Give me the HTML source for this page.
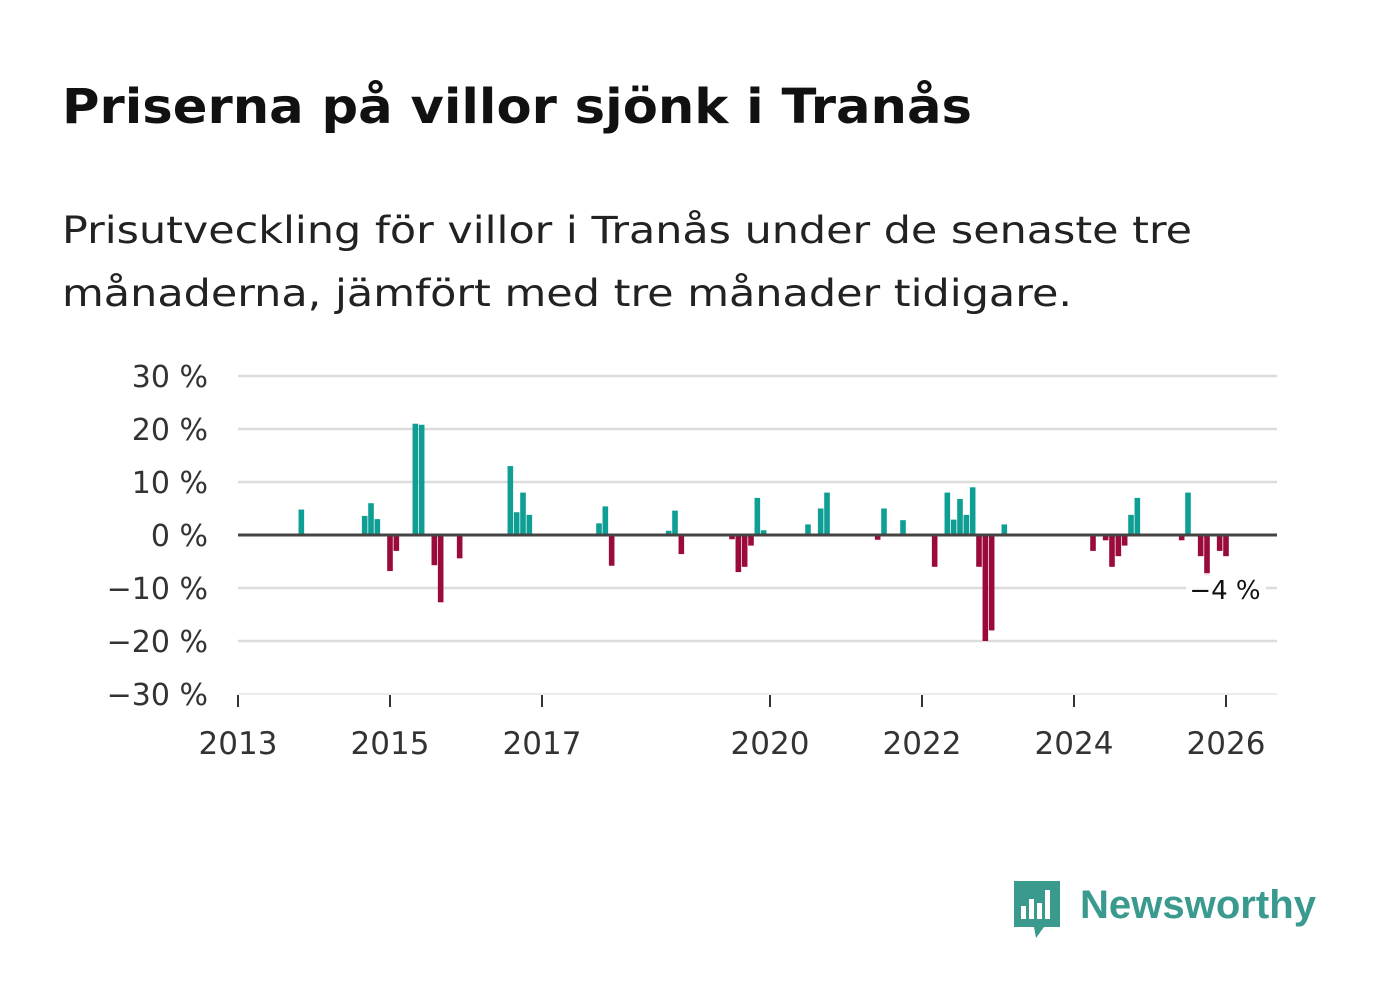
<!DOCTYPE html>
<html><head><meta charset="utf-8"><style>
body{margin:0;background:#fff;width:1382px;height:999px;overflow:hidden;font-family:"DejaVu Sans",sans-serif;}
svg text{font-family:"DejaVu Sans",sans-serif;}
</style></head><body>
<svg id="chart" width="1382" height="999">
<text x="62" y="123" font-size="48" font-weight="bold" fill="#111" textLength="910" lengthAdjust="spacingAndGlyphs">Priserna på villor sjönk i Tranås</text>
<text x="62" y="243" font-size="37" fill="#222" textLength="1130" lengthAdjust="spacingAndGlyphs">Prisutveckling för villor i Tranås under de senaste tre</text>
<text x="62" y="306" font-size="37" fill="#222" textLength="1010" lengthAdjust="spacingAndGlyphs">månaderna, jämfört med tre månader tidigare.</text>
<g id="grid"></g><g id="bars"></g><g id="axes"></g>
<g>
<path d="M1014 881 h46 v46 h-16 l-8 11 l-2 -11 h-20 z" fill="#3a9a8e"/>
<rect x="1021" y="906" width="5" height="13" fill="#fff"/><rect x="1029" y="899" width="5" height="20" fill="#fff"/><rect x="1037" y="903" width="5" height="16" fill="#fff"/><rect x="1045" y="890" width="5" height="29" fill="#fff"/>
<text x="1080" y="918" font-size="40" font-weight="bold" fill="#3a9a8e" textLength="236" lengthAdjust="spacingAndGlyphs" style="font-family:'Liberation Sans',sans-serif">Newsworthy</text>
</g>
</svg>
<script>
const months=[10,20,21,22,24,25,28,29,31,32,35,43,44,45,46,57,58,59,68,69,70,78,79,80,81,82,83,90,92,93,101,102,105,110,112,113,114,115,116,117,118,119,121,135,137,138,139,140,141,142,149,150,152,153,155,156];
const values=[4.8,3.6,6,3,-6.8,-3,21,20.8,-5.7,-12.7,-4.4,13,4.3,8,3.8,2.2,5.4,-5.8,0.8,4.6,-3.6,-0.8,-7,-6,-2,7,0.9,2,5,8,-0.9,5,2.8,-6,8,2.9,6.8,3.8,9,-6,-20,-18,2,-3,-1,-6,-4,-2,3.8,7,-1,8,-4,-7.7,-3,-4];
const yTicks=[30,20,10,0,-10,-20,-30];
const yTickLabels=["30 %","20 %","10 %","0 %","−10 %","−20 %","−30 %"];
const xYears=[2013,2015,2017,2020,2022,2024,2026];
const lastLabel="−4 %";
const NS="http://www.w3.org/2000/svg";
const X=m=>238+m*(76/12);
const Y=v=>535-v*5.3;
function mk(t,a,p){const e=document.createElementNS(NS,t);for(const k in a)e.setAttribute(k,a[k]);p.appendChild(e);return e;}
const grid=document.getElementById('grid'),bars=document.getElementById('bars'),axes=document.getElementById('axes');
yTicks.forEach((t,i)=>{
 if(t!==0){const l=mk('line',{x1:238,x2:1277,y1:Y(t),y2:Y(t),stroke:t===-30?'#e6e6e6':'#dcdcdc','stroke-width':t===-30?1.5:2.5},grid);
 
 }
 const tx=mk('text',{x:208,y:Y(t)+11,'text-anchor':'end','font-size':30,fill:'#333'},axes);
 tx.textContent=yTickLabels[i];
 
 
});
months.forEach((m,i)=>{
 const v=values[i];const y0=Y(0),y1=Y(v);
 const r=mk('rect',{x:X(m)-2.8,width:5.6,y:Math.min(y0,y1),height:Math.abs(y1-y0),fill:v>=0?'#0f9e94':'#9b0a3c'},bars);
 
 
});
const zl=mk('line',{x1:238,x2:1277,y1:Y(0),y2:Y(0),stroke:'#444','stroke-width':3},axes);


xYears.forEach(yr=>{
 const x=X((yr-2013)*12);
 const tk=mk('line',{x1:x,x2:x,y1:695,y2:707,stroke:'#333','stroke-width':2},axes);
 
 
 const tx=mk('text',{x:x,y:754,'text-anchor':'middle','font-size':31,fill:'#333'},axes);
 tx.textContent=yr;
 
 
});
const lm=months[months.length-1],lv=values[values.length-1];
const bg=mk('rect',{x:X(lm)-40,y:Y(lv)+17,width:80,height:32,fill:'#fff',opacity:0.9},axes);


const ll=mk('text',{x:X(lm)-1,y:Y(lv)+43,'text-anchor':'middle','font-size':26,fill:'#111'},axes);
ll.textContent=lastLabel;


</script>
</body></html>
